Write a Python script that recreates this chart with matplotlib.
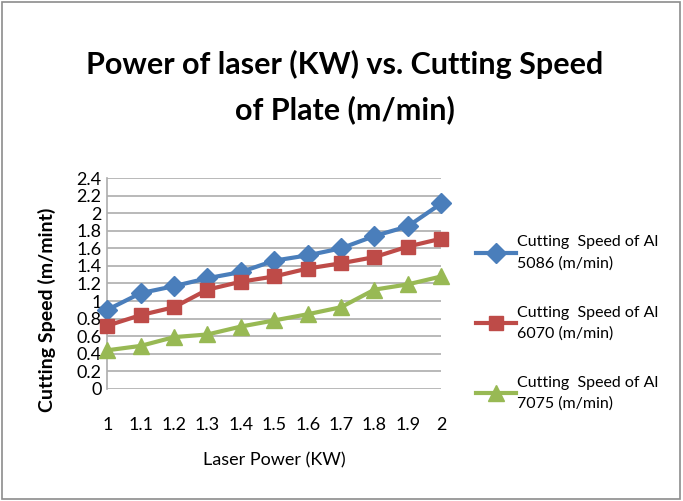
import matplotlib
matplotlib.use('Agg')
import matplotlib.pyplot as plt
from matplotlib.patches import Rectangle

# data
laser_power = ['1', '1.1', '1.2', '1.3', '1.4', '1.5', '1.6', '1.7', '1.8', '1.9', '2']
speed_5086 = [0.90, 1.09, 1.17, 1.26, 1.33, 1.46, 1.52, 1.60, 1.74, 1.85, 2.11]
speed_6070 = [0.72, 0.84, 0.93, 1.13, 1.22, 1.28, 1.37, 1.43, 1.50, 1.62, 1.71]
speed_7075 = [0.44, 0.49, 0.59, 0.62, 0.71, 0.78, 0.85, 0.93, 1.13, 1.19, 1.28]
series_names = ['Cutting  Speed of Al\n5086 (m/min)',
                'Cutting  Speed of Al\n6070 (m/min)',
                'Cutting  Speed of Al\n7075 (m/min)']
y_ticks = [0, 0.2, 0.4, 0.6, 0.8, 1, 1.2, 1.4, 1.6, 1.8, 2, 2.2, 2.4]

BLUE = '#4A7EBB'
RED = '#BE4B48'
GREEN = '#98B954'
GRID = '#ADADAD'

plt.rcParams['font.family'] = ['Lato', 'DejaVu Sans']

fig = plt.figure(figsize=(6.83, 5.01), dpi=100)
fig.patches.append(Rectangle((0.003, 0.003), 0.992, 0.994, transform=fig.transFigure,
                             fill=False, edgecolor='#8C8C8C', linewidth=1.2))

ax = fig.add_axes([0.157, 0.2236, 0.489, 0.4211])
x = list(range(len(laser_power)))

styles = [(speed_5086, BLUE, 'D', 10),
          (speed_6070, RED, 's', 10),
          (speed_7075, GREEN, '^', 11)]
for (vals, col, mk, ms), name in zip(styles, series_names):
    ax.plot(x, vals, color=col, marker=mk, markersize=ms, linewidth=3,
            label=name, clip_on=False, zorder=3)

ax.set_xlim(0, 10)
ax.set_ylim(0, 2.4)
ax.set_yticks(y_ticks)
ax.set_yticklabels([f'{v:g}' for v in y_ticks])
ax.set_xticks(x)
ax.set_xticklabels(laser_power)
ax.grid(axis='y', color=GRID, linewidth=1.2)
ax.set_axisbelow(True)
for s in ['top', 'right', 'bottom']:
    ax.spines[s].set_visible(False)
ax.spines['left'].set_color(GRID)
ax.spines['left'].set_linewidth(1.2)
ax.tick_params(axis='both', length=0, labelsize=13)
ax.tick_params(axis='x', pad=20)
ax.tick_params(axis='y', pad=4)

ax.set_xlabel('Laser Power (KW)', fontsize=13, labelpad=14)
ax.set_ylabel('Cutting Speed (m/mint)', fontsize=14, fontweight='bold')
ax.yaxis.set_label_coords(-0.153, 0.375)

fig.text(0.505, 0.826, 'Power of laser (KW) vs. Cutting Speed\nof Plate (m/min)',
         ha='center', va='center', fontsize=22, fontweight='bold', linespacing=1.7)

leg = fig.legend(loc='center left', bbox_to_anchor=(0.685, 0.355), frameon=False,
                 fontsize=11.5, handlelength=2.5, handletextpad=0.05, labelspacing=2.2,
                 borderpad=0)
for t in leg.get_texts():
    t.set_linespacing(1.6)

fig.savefig('out.png', dpi=100)
